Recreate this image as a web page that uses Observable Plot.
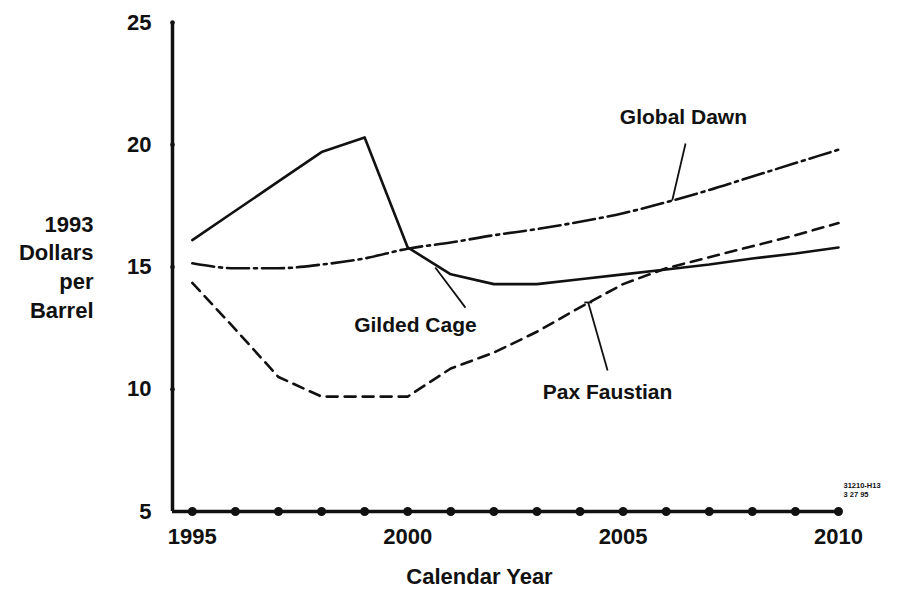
<!DOCTYPE html>
<html>
<head>
<meta charset="utf-8">
<script src="https://cdn.jsdelivr.net/npm/d3@7"></script>
<script src="https://cdn.jsdelivr.net/npm/@observablehq/plot@0.6"></script>
<style>
  html, body { margin: 0; padding: 0; background: #fff; }
</style>
</head>
<body>
<div id="chart"></div>
<script>
// ---- data ----
const years = [1995, 1996, 1997, 1998, 1999, 2000, 2001, 2002, 2003, 2004, 2005, 2006, 2007, 2008, 2009, 2010];
const gildedCage  = [16.1, 17.3, 18.5, 19.7, 20.3, 15.8, 14.7, 14.3, 14.3, 14.5, 14.7, 14.9, 15.1, 15.35, 15.55, 15.8];
const globalDawn  = [15.15, 14.95, 14.95, 15.1, 15.35, 15.75, 16.0, 16.3, 16.55, 16.85, 17.2, 17.65, 18.15, 18.7, 19.25, 19.8];
const paxFaustian = [14.35, 12.45, 10.5, 9.7, 9.7, 9.7, 10.85, 11.5, 12.35, 13.35, 14.3, 14.95, 15.4, 15.85, 16.3, 16.8];
const seriesNames = ["Gilded Cage", "Global Dawn", "Pax Faustian"];
const xTickLabels = [1995, 2000, 2005, 2010];
const yTickLabels = [5, 10, 15, 20, 25];
const yTitleLines = ["1993", "Dollars", "per", "Barrel"];
const xTitle = "Calendar Year";
const stampLines = ["31210-H13", "3 27 95"];
// annotation labels (in data coordinates: year, $/bbl)
const labelNames = ["Global Dawn", "Gilded Cage", "Pax Faustian"];
const labelYears = [2006.4, 2000.18, 2004.64];
const labelPrices = [21.11, 12.61, 9.87];
// leader lines: start (year, price) -> end (year, price)
const leaderFrom = [[2006.45, 20.05], [2000.64, 14.98], [2004.19, 13.55]];
const leaderTo   = [[2006.14, 17.72], [2001.34, 13.34], [2004.64, 10.77]];

// ---- build tables ----
const seriesValues = [gildedCage, globalDawn, paxFaustian];
const table = seriesNames.flatMap((name, i) =>
  years.map((yr, j) => ({series: name, year: yr, price: seriesValues[i][j]})));
const labels = labelNames.map((t, i) => ({text: t, year: labelYears[i], price: labelPrices[i]}));
const leaders = leaderFrom.map((f, i) => ({x1: f[0], y1: f[1], x2: leaderTo[i][0], y2: leaderTo[i][1]}));

const xDomain = [1994.54, 2010];
const yDomain = [5, 25];
const ink = "#111";

const chart = Plot.plot({
  width: 899,
  height: 604,
  marginLeft: 172,
  marginRight: 61,
  marginTop: 22,
  marginBottom: 93,
  x: {domain: xDomain},
  y: {domain: yDomain},
  style: {
    fontFamily: "'Liberation Sans', Arial, Helvetica, sans-serif",
    fontWeight: "bold",
    fontSize: "22px",
    color: ink,
    background: "#fff"
  },
  marks: [
    // axes lines
    Plot.ruleX([xDomain[0]], {y1: yDomain[0], y2: yDomain[1], stroke: ink, strokeWidth: 3.5}),
    Plot.ruleY([yDomain[0]], {x1: xDomain[0], x2: xDomain[1], stroke: ink, strokeWidth: 3.5}),
    Plot.dot(years, {x: d => d, y: () => yDomain[0], r: 4.5, fill: ink, stroke: "none"}),
    Plot.dot(yTickLabels.slice(1), {x: () => xDomain[0], y: d => d, r: 2.3, fill: ink, stroke: "none"}),
    Plot.axisY(yTickLabels, {tickSize: 0, tickPadding: 21, tickFormat: d => String(d)}),
    Plot.axisX(xTickLabels, {tickSize: 0, tickPadding: 17, tickFormat: d => String(d)}),
    // series
    Plot.lineY(table.filter(d => d.series === "Gilded Cage"), {
      x: "year", y: "price", stroke: ink, strokeWidth: 2.6, curve: "linear"}),
    Plot.lineY(table.filter(d => d.series === "Global Dawn"), {
      x: "year", y: "price", stroke: ink, strokeWidth: 2.6, curve: "monotone-x",
      strokeDasharray: "22,5,3,5"}),
    Plot.lineY(table.filter(d => d.series === "Pax Faustian"), {
      x: "year", y: "price", stroke: ink, strokeWidth: 2.6, curve: "linear",
      strokeDasharray: "11,7"}),
    // annotations
    Plot.link(leaders, {x1: "x1", y1: "y1", x2: "x2", y2: "y2", stroke: ink, strokeWidth: 1.8}),
    Plot.link([leaders[2]], {x1: d => d.x1 - 0.09, x2: d => d.x1 + 0.09, y1: "y1", y2: "y1", stroke: ink, strokeWidth: 1.8}),
    Plot.text(labels, {x: "year", y: "price", text: "text", fontSize: 21, fill: ink}),
    // titles
    Plot.text([yTitleLines.join("\n")], {frameAnchor: "left", textAnchor: "end", dx: -79, dy: -1.5,
      lineHeight: 1.3, fontSize: 22, fill: ink}),
    Plot.text([xTitle], {frameAnchor: "bottom", dx: -26, dy: 72, fontSize: 22, fill: ink}),
    Plot.text([stampLines.join("\n")], {frameAnchor: "bottom-right", textAnchor: "start", dx: 5, dy: -15,
      lineHeight: 1.15, fontSize: 7.5, fill: ink})
  ]
});
document.getElementById("chart").appendChild(chart);
</script>
</body>
</html>
